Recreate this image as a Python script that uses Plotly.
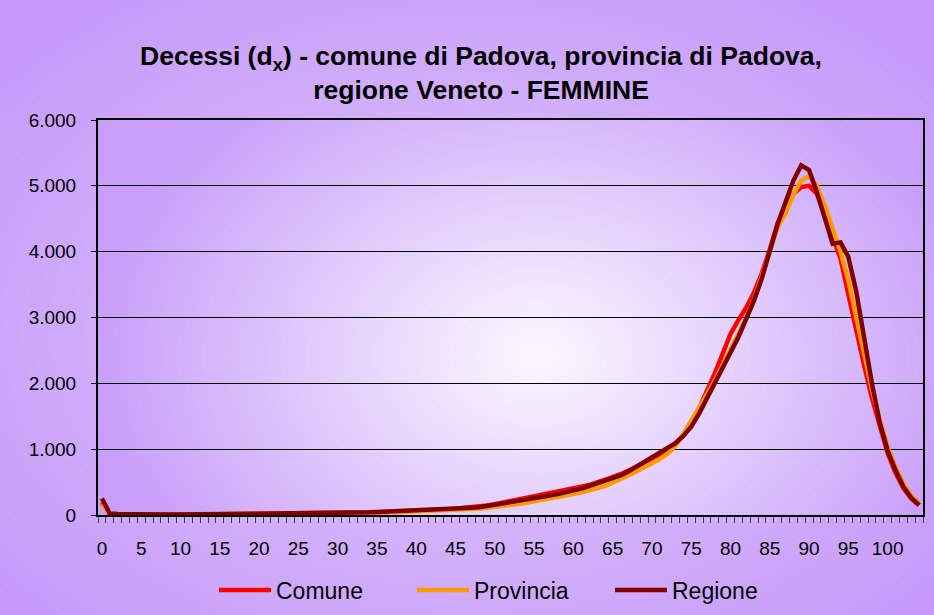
import base64
import struct
import zlib

import numpy as np
import plotly.graph_objects as go

# ---------------- data ----------------
ages = list(range(0, 105))
tick_vals = list(range(0, 101, 5))
tick_text = [str(v) for v in tick_vals]

comune = [
    190, 15, 9, 7, 6, 6, 6, 5, 5, 6,
    6, 7, 7, 8, 9, 10, 12, 13, 14, 15,
    15, 15, 15, 16, 16, 17, 18, 19, 20, 21,
    23, 26, 30, 34, 38, 43, 47, 50, 53, 56,
    60, 66, 72, 79, 87, 95, 105, 115, 125, 145,
    165, 188, 210, 230, 252, 275, 298, 320, 345, 372,
    400, 428, 455, 490, 530, 575, 620, 670, 730, 790,
    850, 920, 1000, 1090, 1210, 1380, 1620, 1880, 2150, 2450,
    2750, 2960, 3150, 3380, 3680, 4030, 4430, 4700, 4880, 4980,
    5000, 4880, 4550, 4200, 3900, 3350, 2800, 2280, 1780, 1330,
    940, 640, 410, 250, 150,
]

provincia = [
    165, 14, 9, 7, 6, 5, 5, 5, 5, 5,
    6, 6, 7, 8, 9, 10, 11, 12, 13, 14,
    14, 14, 15, 15, 16, 16, 17, 18, 19, 20,
    22, 24, 27, 30, 33, 37, 40, 43, 47, 51,
    55, 59, 63, 68, 74, 80, 86, 93, 100, 110,
    120, 134, 150, 167, 185, 205, 226, 248, 270, 295,
    320, 345, 370, 405, 440, 490, 540, 600, 660, 720,
    780, 850, 930, 1050, 1230, 1420, 1620, 1830, 2040, 2270,
    2510, 2740, 2990, 3270, 3620, 4020, 4370, 4580, 4870, 5080,
    5150, 5000, 4700, 4350, 4000, 3560, 3000, 2430, 1910, 1450,
    1040, 730, 480, 290, 180,
]

regione = [
    250, 22, 14, 10, 8, 7, 7, 6, 6, 6,
    7, 7, 8, 9, 10, 12, 14, 16, 17, 18,
    17, 17, 17, 17, 18, 18, 19, 20, 21, 22,
    24, 27, 31, 36, 40, 45, 49, 53, 57, 61,
    65, 70, 76, 82, 88, 95, 102, 110, 117, 135,
    152, 170, 195, 212, 232, 252, 272, 295, 320, 345,
    372, 400, 440, 478, 520, 560, 600, 660, 730, 800,
    865, 940, 1010, 1090, 1200, 1340, 1540, 1770, 1990, 2220,
    2460, 2700, 2980, 3260, 3600, 4000, 4420, 4750, 5080, 5310,
    5240, 4900, 4500, 4120, 4140, 3920, 3400, 2680, 2000, 1400,
    980, 680, 430, 260, 150,
]

series_names = ["Comune", "Provincia", "Regione"]
series_values = [comune, provincia, regione]
series_colors = ["#FF0000", "#FF9900", "#800000"]

# ---------------- layout geometry ----------------
W, H = 934, 615
ML, MR, MT, MB = 98, 11, 120, 100
PW, PH = W - ML - MR, H - MT - MB


def to_png_uri(arr):
    h, w, _ = arr.shape
    raw = b"".join(b"\x00" + arr[i].tobytes() for i in range(h))

    def chunk(tag, data):
        c = struct.pack(">I", len(data)) + tag + data
        return c + struct.pack(">I", zlib.crc32(tag + data) & 0xFFFFFFFF)

    png = (b"\x89PNG\r\n\x1a\n"
           + chunk(b"IHDR", struct.pack(">IIBBBBB", w, h, 8, 2, 0, 0, 0))
           + chunk(b"IDAT", zlib.compress(raw, 9))
           + chunk(b"IEND", b""))
    return "data:image/png;base64," + base64.b64encode(png).decode()


def gradient(w, h, cx, cy, rx, ry, c0, c1, power=1.0):
    xs = np.arange(w) + 0.5
    ys = np.arange(h) + 0.5
    X, Y = np.meshgrid(xs, ys)
    t = np.sqrt(((X - cx) / rx) ** 2 + ((Y - cy) / ry) ** 2)
    t = np.clip(t, 0, 1) ** power
    c0 = np.array(c0, dtype=float)
    c1 = np.array(c1, dtype=float)
    img = c0[None, None, :] + (c1 - c0)[None, None, :] * t[:, :, None]
    return np.clip(img, 0, 255).astype(np.uint8)


paper_img = gradient(W, H, 470, 330, 640, 430, (224, 202, 252), (198, 152, 250))
plot_img = gradient(PW, PH, 440, 235, 450, 340, (252, 249, 255), (200, 158, 250))

fig = go.Figure()
for name, vals, col in zip(series_names, series_values, series_colors):
    fig.add_trace(go.Scatter(
        x=ages, y=vals, mode="lines", name=name,
        line=dict(color=col, width=4.5),
    ))

fig.update_layout(
    template="none",
    width=W, height=H,
    margin=dict(l=ML, r=MR, t=MT, b=MB, pad=0, autoexpand=False),
    paper_bgcolor="#C89CF8",
    plot_bgcolor="rgba(0,0,0,0)",
    separators=",.",
    font=dict(family="Liberation Sans, Arial, sans-serif", color="black", size=19),
    title=dict(
        text="<b>Decessi (d<sub>x</sub>) - comune di Padova, provincia di Padova,<br>regione Veneto - FEMMINE</b>",
        x=481 / W, xref="container", xanchor="center",
        y=1 - 65 / H, yref="container", yanchor="top",
        font=dict(size=26.5, color="black", family="Liberation Sans, Arial, sans-serif"),
    ),
    showlegend=True,
    legend=dict(
        orientation="h",
        x=214 / W, xref="container", xanchor="left",
        y=1 - 590 / H, yref="container", yanchor="middle",
        font=dict(size=23),
        bgcolor="rgba(0,0,0,0)",
        itemwidth=52,
        entrywidth=131,
        traceorder="normal",
    ),
    images=[
        dict(source=to_png_uri(paper_img), xref="paper", yref="paper",
             x=-ML / PW, y=1 + MT / PH, sizex=W / PW, sizey=H / PH,
             xanchor="left", yanchor="top", sizing="stretch", layer="below"),
        dict(source=to_png_uri(plot_img), xref="paper", yref="paper",
             x=0, y=1, sizex=1, sizey=1,
             xanchor="left", yanchor="top", sizing="stretch", layer="below"),
    ],
)

fig.update_xaxes(
    range=[-0.5, 104.5],
    tickmode="array", tickvals=tick_vals, ticktext=tick_text,
    ticks="outside", ticklen=6, tickcolor="rgba(0,0,0,0)",
    ticklabelstandoff=9,
    minor=dict(tickmode="linear", tick0=-0.5, dtick=1, ticks="outside",
               ticklen=6, tickcolor="#444444", tickwidth=1, showgrid=False),
    showgrid=False, zeroline=False,
    showline=True, linecolor="black", linewidth=2, mirror=True,
    tickfont=dict(size=19),
)

fig.update_yaxes(
    range=[0, 6000], tickmode="linear", tick0=0, dtick=1000,
    tickformat=",d",
    ticks="outside", ticklen=5, tickcolor="black", tickwidth=1,
    ticklabelstandoff=11,
    showgrid=True, gridcolor="black", gridwidth=1,
    zeroline=False,
    showline=True, linecolor="black", linewidth=2, mirror=True,
    tickfont=dict(size=19),
)

fig.write_html(
    "out.html",
    config={"displayModeBar": False},
    post_script="document.body.style.margin='0';document.body.style.overflow='hidden';",
)
